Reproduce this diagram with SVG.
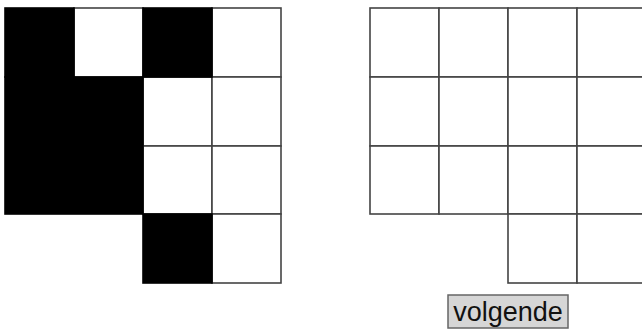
<svg xmlns="http://www.w3.org/2000/svg" width="642" height="329" viewBox="0 0 642 329">
<style>
.w{fill:#fff;stroke:#444;stroke-width:1.6}
.b{fill:#000;stroke:#000;stroke-width:1.6}
.btn{fill:#d6d6d6;stroke:#666;stroke-width:1.5}
.t{font-family:"Liberation Sans",Arial,sans-serif;font-size:27px;fill:#111}
</style>
<rect width="642" height="329" fill="#fff"/>
<g id="left-grid">
<rect class="w" x="74" y="8" width="69" height="69"/>
<rect class="w" x="212" y="8" width="69" height="69"/>
<rect class="w" x="143" y="77" width="69" height="69"/>
<rect class="w" x="212" y="77" width="69" height="69"/>
<rect class="w" x="143" y="146" width="69" height="68"/>
<rect class="w" x="212" y="146" width="69" height="68"/>
<rect class="w" x="212" y="214" width="69" height="69"/>
<rect class="b" x="5" y="8" width="69" height="69"/>
<rect class="b" x="143" y="8" width="69" height="69"/>
<rect class="b" x="5" y="77" width="138" height="137"/>
<rect class="b" x="143" y="214" width="69" height="69"/>
</g>
<g id="right-grid">
<rect class="w" x="370" y="8" width="69" height="69"/>
<rect class="w" x="439" y="8" width="69" height="69"/>
<rect class="w" x="508" y="8" width="69" height="69"/>
<rect class="w" x="577" y="8" width="69" height="69"/>
<rect class="w" x="370" y="77" width="69" height="69"/>
<rect class="w" x="439" y="77" width="69" height="69"/>
<rect class="w" x="508" y="77" width="69" height="69"/>
<rect class="w" x="577" y="77" width="69" height="69"/>
<rect class="w" x="370" y="146" width="69" height="68"/>
<rect class="w" x="439" y="146" width="69" height="68"/>
<rect class="w" x="508" y="146" width="69" height="68"/>
<rect class="w" x="577" y="146" width="69" height="68"/>
<rect class="w" x="508" y="214" width="69" height="69"/>
<rect class="w" x="577" y="214" width="69" height="69"/>
</g>
<g id="button">
<rect class="btn" x="448" y="295" width="120" height="33"/>
<text class="t" x="508" y="320.5" text-anchor="middle">volgende</text>
</g>
</svg>
